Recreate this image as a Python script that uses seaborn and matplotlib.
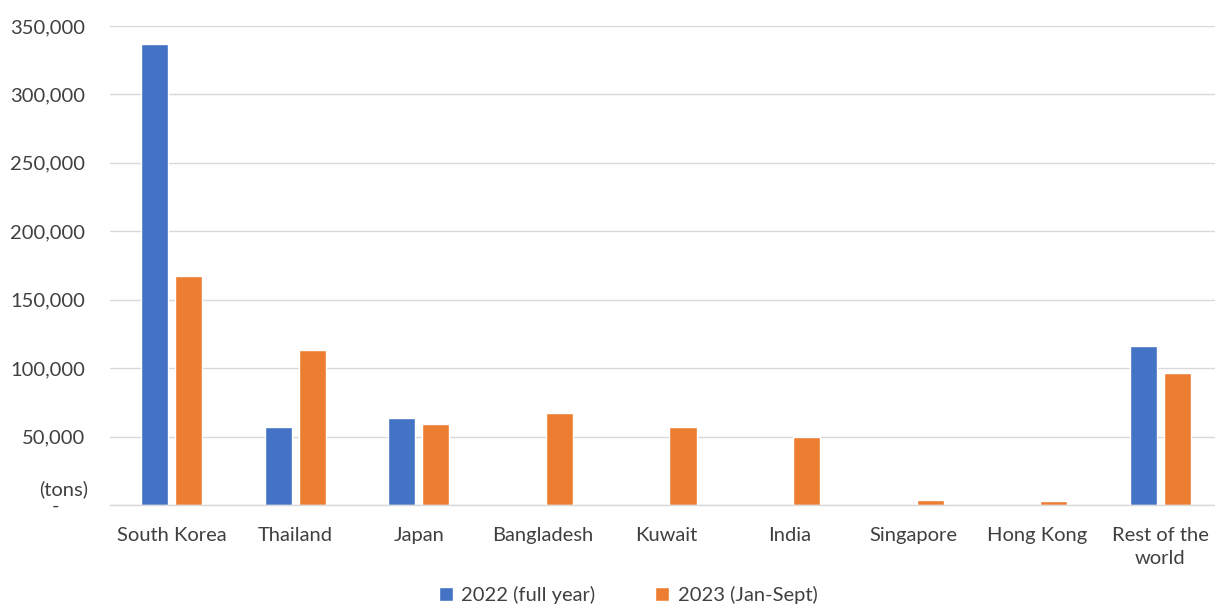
import matplotlib
matplotlib.use("Agg")
import matplotlib.pyplot as plt
import seaborn as sns
import pandas as pd
from matplotlib.ticker import FuncFormatter, MultipleLocator

categories = ["South Korea", "Thailand", "Japan", "Bangladesh", "Kuwait",
              "India", "Singapore", "Hong Kong", "Rest of the\nworld"]
series_names = ["2022 (full year)", "2023 (Jan-Sept)"]
values_2022 = [337000, 57000, 63500, 0, 0, 0, 0, 0, 116000]
values_2023 = [167300, 113300, 59200, 67400, 56700, 49500, 3700, 3000, 96500]
colors = ["#4472C4", "#ED7D31"]

df = pd.DataFrame({
    "country": categories * 2,
    "series": [series_names[0]] * len(categories) + [series_names[1]] * len(categories),
    "value": values_2022 + values_2023,
})

sns.set_theme(style="white")
plt.rcParams["font.family"] = ["Lato", "DejaVu Sans"]
FS = 14.5

fig = plt.figure(figsize=(12.15, 6.07), dpi=100)
W, H = 1215, 607
ax = fig.add_axes([110 / W, (H - 505) / H, (1222 - 110) / W, (505 - 26) / H])

sns.barplot(data=df, x="country", y="value", hue="series", order=categories,
            hue_order=series_names, palette=colors, width=0.55, gap=0.2,
            saturation=1, ax=ax, legend=True)

ax.set_ylim(0, 350000)
ax.set_xlim(-0.5, len(categories) - 0.5)
ax.yaxis.set_major_locator(MultipleLocator(50000))
ax.yaxis.set_major_formatter(FuncFormatter(lambda v, p: "-     " if v == 0 else f"{int(v):,}"))
ax.grid(axis="y", color="#D9D9D9", linewidth=1)
ax.set_axisbelow(True)
for s in ["top", "right", "left"]:
    ax.spines[s].set_visible(False)
ax.spines["bottom"].set_color("#D9D9D9")
ax.spines["bottom"].set_linewidth(1)
ax.set_xlabel("")
ax.set_ylabel("")
ax.tick_params(axis="y", length=0, pad=18, labelsize=FS, labelcolor="#404040")
ax.tick_params(axis="x", length=0, pad=16, labelsize=FS, labelcolor="#404040")
for lbl in ax.get_xticklabels():
    lbl.set_linespacing(1.4)

fig.text(64 / W, 1 - 489 / H, "(tons)", ha="center", va="center",
         fontsize=FS, color="#404040")

handles, labels = ax.get_legend_handles_labels()
ax.get_legend().remove()
fig.legend(handles, labels, loc="lower center", bbox_to_anchor=(628 / W, -0.025),
           ncol=2, frameon=False, fontsize=FS, handlelength=0.7, handleheight=0.7,
           handletextpad=0.4, columnspacing=3.0, labelcolor="#404040")

fig.savefig("out.png", dpi=100)
